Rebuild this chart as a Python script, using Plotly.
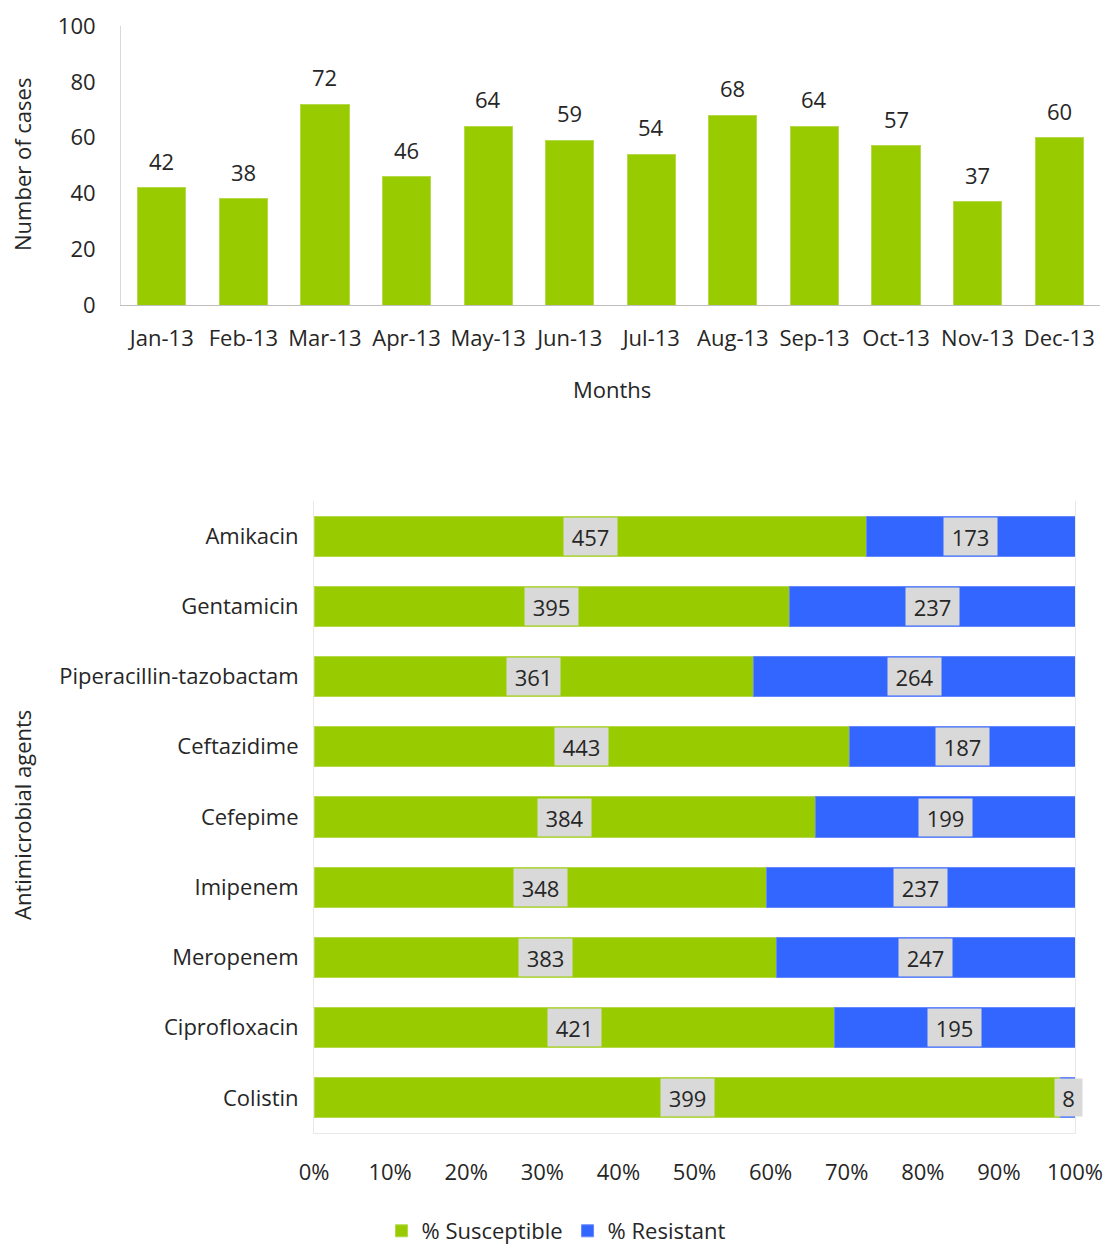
import plotly.graph_objects as go

months = ["Jan-13", "Feb-13", "Mar-13", "Apr-13", "May-13", "Jun-13",
          "Jul-13", "Aug-13", "Sep-13", "Oct-13", "Nov-13", "Dec-13"]
cases = [42, 38, 72, 46, 64, 59, 54, 68, 64, 57, 37, 60]

agents = ["Amikacin", "Gentamicin", "Piperacillin-tazobactam", "Ceftazidime",
          "Cefepime", "Imipenem", "Meropenem", "Ciprofloxacin", "Colistin"]
susceptible = [457, 395, 361, 443, 384, 348, 383, 421, 399]
resistant = [173, 237, 264, 187, 199, 237, 247, 195, 8]

pct_ticks = [0, 10, 20, 30, 40, 50, 60, 70, 80, 90, 100]
pct_labels = [f"{t}%" for t in pct_ticks]

GREEN = "#99cc00"
BLUE = "#3366ff"
TXT = "#262626"
FONT = "Open Sans"
FS = 22
W, H = 1103, 1246

s_pct = [s / (s + r) * 100 for s, r in zip(susceptible, resistant)]
r_pct = [r / (s + r) * 100 for s, r in zip(susceptible, resistant)]

fig = go.Figure()

fig.add_trace(go.Bar(x=months, y=cases, marker=dict(color=GREEN, line=dict(color="#b5d94a", width=1)),
                     width=0.59, showlegend=False, xaxis="x", yaxis="y"))

fig.add_trace(go.Bar(y=agents, x=s_pct, orientation="h", name="% Susceptible",
                     marker=dict(color=GREEN, line=dict(color="#b5d94a", width=1)), width=0.57,
                     xaxis="x2", yaxis="y2"))
fig.add_trace(go.Bar(y=agents, x=r_pct, orientation="h", name="% Resistant",
                     marker=dict(color=BLUE, line=dict(color="#6688ff", width=1)), width=0.57,
                     xaxis="x2", yaxis="y2"))


def box_width(txt):
    return 13 * len(txt) + 6


annotations = []
for m, c in zip(months, cases):
    annotations.append(dict(x=m, y=c, xref="x", yref="y", text=str(c), showarrow=False,
                            yanchor="bottom", yshift=10, font=dict(size=FS, color=TXT, family=FONT)))

for a, s, r, sp, rp in zip(agents, susceptible, resistant, s_pct, r_pct):
    annotations.append(dict(x=sp / 2, y=a, xref="x2", yref="y2", text=str(s), showarrow=False,
                            bgcolor="#d9d9d9", borderpad=4, width=box_width(str(s)), height=29,
                            font=dict(size=FS, color=TXT, family=FONT)))
    xr = sp + rp / 2
    if rp < 5:
        xr = min(xr + 1, 99.2)
    annotations.append(dict(x=xr, y=a, xref="x2", yref="y2", text=str(r), showarrow=False,
                            bgcolor="#d9d9d9", borderpad=4, width=box_width(str(r)), height=29,
                            font=dict(size=FS, color=TXT, family=FONT)))

annotations += [
    dict(x=22 / W, y=1 - 165 / H, xref="paper", yref="paper", text="Number of cases", textangle=-90,
         xanchor="center", yanchor="middle",
         showarrow=False, font=dict(size=FS, color=TXT, family=FONT)),
    dict(x=612 / W, y=1 - 389 / H, xref="paper", yref="paper", text="Months",
         xanchor="center", yanchor="middle",
         showarrow=False, font=dict(size=FS, color=TXT, family=FONT)),
    dict(x=22 / W, y=1 - 815 / H, xref="paper", yref="paper", text="Antimicrobial agents", textangle=-90,
         xanchor="center", yanchor="middle",
         showarrow=False, font=dict(size=FS, color=TXT, family=FONT)),
]

fig.update_layout(
    width=W, height=H,
    margin=dict(l=0, r=0, t=0, b=0, autoexpand=False),
    paper_bgcolor="white", plot_bgcolor="white",
    font=dict(family=FONT, size=FS, color=TXT),
    barmode="stack",
    bargap=0.41,
    xaxis=dict(domain=[121 / W, 1100 / W], anchor="y", showline=True, linecolor="#bfbfbf",
               linewidth=1, showgrid=False, ticks="", tickfont=dict(size=FS),
               ticklabelstandoff=14, automargin=False),
    yaxis=dict(domain=[1 - 305 / H, 1 - 26 / H], anchor="x", range=[0, 100], dtick=20,
               showline=True, linecolor="#d9d9d9", showgrid=False, zeroline=False, ticks="",
               tickfont=dict(size=FS), ticklabelstandoff=20, automargin=False),
    xaxis2=dict(domain=[314 / W, 1075 / W], anchor="y2", range=[0, 100], tickvals=pct_ticks,
                ticktext=pct_labels, showline=True, mirror=False, linecolor="#e8e8e8",
                showgrid=False, zeroline=False, ticks="", tickfont=dict(size=FS),
                ticklabelstandoff=20, automargin=False),
    yaxis2=dict(domain=[1 - 1133 / H, 1 - 501 / H], anchor="x2", autorange="reversed",
                showline=True, mirror=True, linecolor="#e8e8e8", showgrid=False, ticks="",
                tickfont=dict(size=FS), ticklabelstandoff=10, automargin=False),
    legend=dict(orientation="h", x=556 / W, y=1 - 1231 / H, xanchor="center", yanchor="middle",
                font=dict(size=FS, color=TXT, family=FONT), traceorder="normal",
                itemwidth=30, tracegroupgap=0),
    annotations=annotations,
)

fig.write_html("out.html")
